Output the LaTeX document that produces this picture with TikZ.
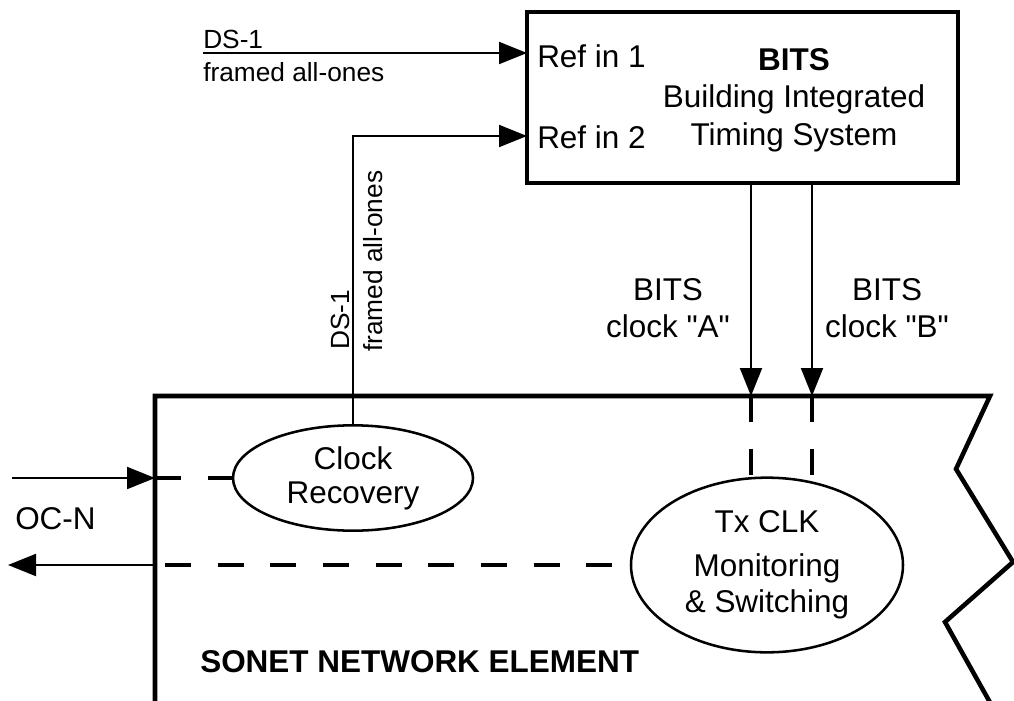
\documentclass[tikz,border=0pt]{standalone}
\usepackage{fontspec}
% plain family without TeX ligature mapping, so " stays a straight quote
\newfontfamily\arial{Liberation Sans}
\usetikzlibrary{arrows.meta,shapes.geometric,calc}
\newcommand\mainfs{\arial\fontsize{23.6pt}{27pt}\selectfont}
\newcommand\smallfs{\arial\fontsize{19.7pt}{23pt}\selectfont}
\tikzset{
  lbl/.style={font=\mainfs, inner sep=0pt},
  slbl/.style={font=\smallfs, inner sep=0pt},
  frame/.style={line width=3.4pt, line join=miter},
  conn/.style={line width=1.5pt},
  tip/.style={-{Triangle[length=21pt,width=16.5pt]}},
  dashln/.style={line width=2.6pt, dash pattern=on 19.5pt off 20pt},
  oval/.style={ellipse, draw, line width=1.9pt, inner sep=0pt, outer sep=0pt,
               align=center, font=\mainfs},
  unitbox/.style={draw, frame, outer sep=0pt, inner sep=0pt}
}
\begin{document}
\begin{tikzpicture}[x=0.75pt, y=-0.75pt]
  \useasboundingbox (0,0) rectangle (1014,700);
  \fill[white] (0,0) rectangle (1014,700);

  % BITS shelf
  \node[unitbox, minimum width=323.25pt, minimum height=128.25pt] (bits) at (742.5,97.5) {};
  \node[lbl, anchor=base west] (refA) at (537,67) {Ref in 1};
  \node[lbl, anchor=base west] (refB) at (537,148) {Ref in 2};
  \node[lbl, anchor=base, font=\mainfs\bfseries] (bitsttl) at (794,70) {BITS};
  \node[lbl, anchor=base] (bitsl1) at (794,107) {Building Integrated};
  \node[lbl, anchor=base] (bitsl2) at (794,145) {Timing System};

  % network element outline, open at the bottom, torn on the right
  \coordinate (neTL) at (155,396);
  \draw[frame] (155,706) -- (neTL) -- (990,396) -- (956,469) -- (1013,562)
               -- (945,622) -- (992,706);
  \node[lbl, anchor=base west, font=\mainfs\bfseries] (nettl) at (200,672) {SONET NETWORK ELEMENT};

  % functional blocks inside the element
  \node[oval, minimum width=180pt, minimum height=79pt] (cr) at (353,478)
       {Clock\\[-1.5pt]Recovery};
  \node[oval, minimum width=204pt, minimum height=131pt] (tx) at (767,565)
       {Tx CLK\\[6pt]Monitoring\\\& Switching};

  % external reference 1
  \coordinate (dsin) at (203,53);
  \draw[conn, tip] (dsin) -- (dsin -| bits.west);
  \node[slbl, anchor=base west] (dsa) at (203,48) {DS-1};
  \node[slbl, anchor=base west] (dsb) at (203,81) {framed all-ones};

  % derived reference 2 from the clock recovery block
  \coordinate (r2) at ($(bits.west)+(0,38.5)$);
  \draw[conn, tip] (cr.north) |- (r2);
  \node[slbl, rotate=90, anchor=base west] (vds) at (349,350) {DS-1};
  \node[slbl, rotate=90, anchor=base west] (vfr) at (382,352) {framed all-ones};

  % BITS clock outputs
  \coordinate (ckA) at ($(bits.south west)+(224,0)$);
  \coordinate (ckB) at ($(bits.south west)+(285,0)$);
  \coordinate (ckAin) at (ckA |- neTL);
  \coordinate (ckBin) at (ckB |- neTL);
  \draw[conn, tip] (ckA) -- (ckAin);
  \draw[conn, tip] (ckB) -- (ckBin);
  \draw[dashln] (ckAin) -- (ckAin |- tx.100);
  \draw[dashln] (ckBin) -- (ckBin |- tx.61);
  \node[lbl, anchor=base] (bcA1) at (668,300) {BITS};
  \node[lbl, anchor=base] (bcA2) at (668,337) {clock "A"};
  \node[lbl, anchor=base] (bcB1) at (887,300) {BITS};
  \node[lbl, anchor=base] (bcB2) at (887,337) {clock "B"};

  % OC-N line side
  \coordinate (ocin) at (12,478);
  \coordinate (ocout) at (8,0);
  \draw[conn, tip] (ocin) -- (ocin -| neTL);
  \draw[dashln] (ocin -| neTL) -- (cr.west);
  \draw[dashln, dash phase=32pt] (tx.west -| neTL) -- (tx.west);
  \draw[conn, tip] (tx.west -| neTL) -- (tx.west -| ocout);
  \node[lbl, anchor=base west] (ocn) at (15,529) {OC-N};
\end{tikzpicture}
\end{document}
